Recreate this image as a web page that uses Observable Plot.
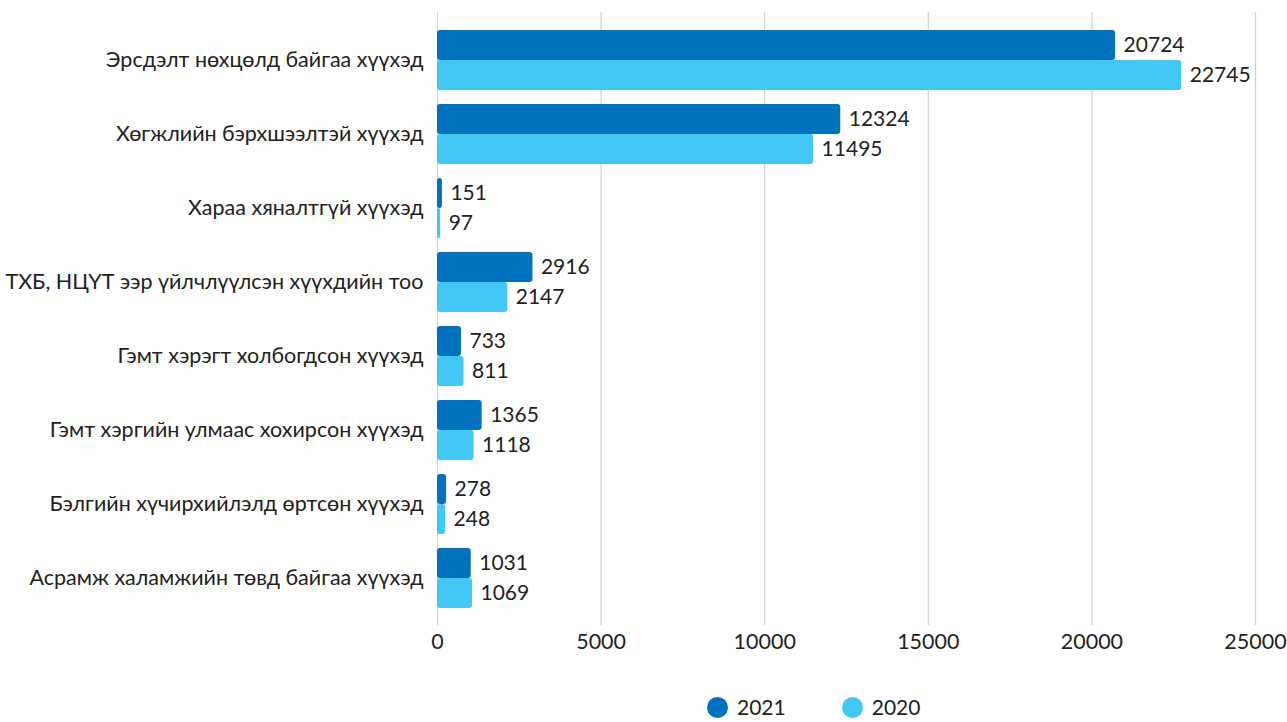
<!DOCTYPE html>
<html>
<head>
<meta charset="utf-8">
<script src="https://cdn.jsdelivr.net/npm/d3@7"></script>
<script src="https://cdn.jsdelivr.net/npm/@observablehq/plot@0.6"></script>
<style>
  html, body { margin: 0; padding: 0; background: #fff; }
  body { width: 1287px; height: 722px; overflow: hidden; font-family: Lato, "Noto Sans", sans-serif; position: relative; }
  #legend { position: absolute; top: 695px; left: 707px; display: flex; align-items: center; font-size: 21px; line-height: 24px; color: #222; }
  .item { display: flex; align-items: center; margin-right: 56px; }
  .dot { width: 21px; height: 21px; border-radius: 50%; margin-right: 9px; }
</style>
</head>
<body>
<div id="chart"></div>
<div id="legend"></div>
<script>
const categories = [
  "Эрсдэлт нөхцөлд байгаа хүүхэд",
  "Хөгжлийн бэрхшээлтэй хүүхэд",
  "Хараа хяналтгүй хүүхэд",
  "ТХБ, НЦҮТ ээр үйлчлүүлсэн хүүхдийн тоо",
  "Гэмт хэрэгт холбогдсон хүүхэд",
  "Гэмт хэргийн улмаас хохирсон хүүхэд",
  "Бэлгийн хүчирхийлэлд өртсөн хүүхэд",
  "Асрамж халамжийн төвд байгаа хүүхэд"
];
const values2021 = [20724, 12324, 151, 2916, 733, 1365, 278, 1031];
const values2020 = [22745, 11495, 97, 2147, 811, 1118, 248, 1069];
const xTicks = [0, 5000, 10000, 15000, 20000, 25000];
const seriesNames = ["2021", "2020"];
const colors = ["#0071bc", "#41c8f4"];

const d2021 = categories.map((c, i) => ({category: c, value: values2021[i]}));
const d2020 = categories.map((c, i) => ({category: c, value: values2020[i]}));

const half = 30;

const chart = Plot.plot({
  width: 1287,
  height: 662,
  marginTop: 12,
  marginBottom: 37,
  marginLeft: 437,
  marginRight: 32,
  style: {fontFamily: "Lato, 'Noto Sans', sans-serif", fontSize: "21.5px", color: "#222", background: "#fff"},
  x: {domain: [0, 25000], ticks: xTicks, tickFormat: d3.format("d"), label: null, tickSize: 0, tickPadding: 8, fontSize: 21},
  y: {domain: categories, padding: 0.19, inset: 2, label: null, tickSize: 0, tickPadding: 14},
  marks: [
    Plot.ruleX(xTicks, {stroke: "#d0d0d0", strokeWidth: 1.2}),
    Plot.barX(d2021, {x: "value", y: "category", fill: colors[0], insetBottom: half, rx: 3}),
    Plot.barX(d2020, {x: "value", y: "category", fill: colors[1], insetTop: half, rx: 3}),
    Plot.text(d2021, {x: "value", y: "category", text: d => String(d.value), dx: 8, dy: -15, textAnchor: "start", fontSize: 21, fill: "#222"}),
    Plot.text(d2020, {x: "value", y: "category", text: d => String(d.value), dx: 8, dy: 15, textAnchor: "start", fontSize: 21, fill: "#222"})
  ]
});
document.getElementById("chart").appendChild(chart);

const legend = document.getElementById("legend");
seriesNames.forEach((name, i) => {
  const item = document.createElement("div");
  item.className = "item";
  const dot = document.createElement("span");
  dot.className = "dot";
  dot.style.background = colors[i];
  const label = document.createElement("span");
  label.textContent = name;
  item.appendChild(dot);
  item.appendChild(label);
  legend.appendChild(item);
});
</script>
</body>
</html>
